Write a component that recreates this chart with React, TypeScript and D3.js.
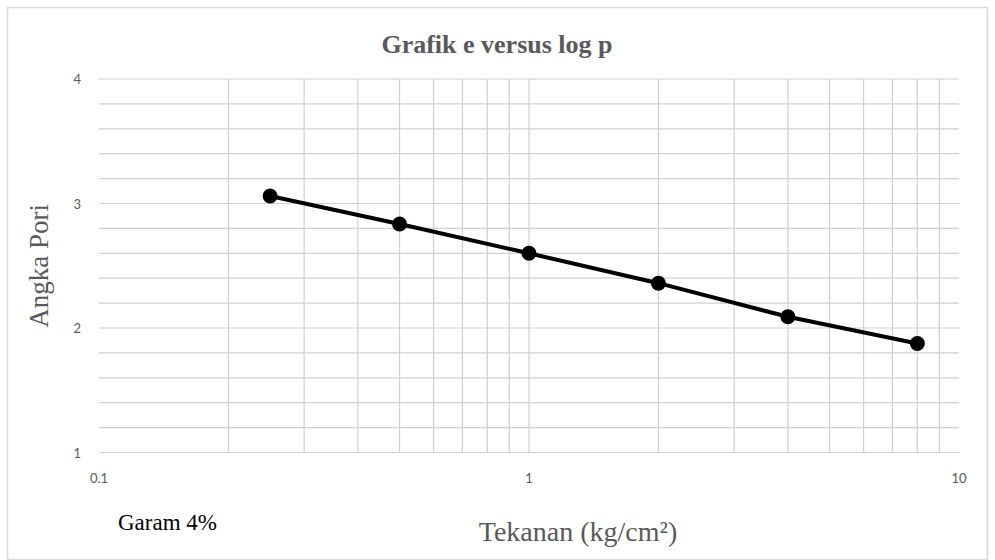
import React from "react";
import * as d3 from "d3";

const pressures = [0.25, 0.5, 1, 2, 4, 8];
const voidRatios = [3.06, 2.835, 2.6, 2.36, 2.09, 1.876];
const yTicks = [1, 2, 3, 4];
const xTickLabels = [0.1, 1, 10];
const xMinor = [0.2, 0.3, 0.4, 0.5, 0.6, 0.7, 0.8, 0.9, 1, 2, 3, 4, 5, 6, 7, 8, 9];
const yMinor = d3.range(1, 4.0001, 0.2);

export default function App() {
  const W = 995, H = 560;
  const left = 99, right = 959, top = 79, bottom = 452.5;
  const x = d3.scaleLog().domain([0.1, 10]).range([left, right]);
  const y = d3.scaleLinear().domain([1, 4]).range([bottom, top]);
  const line = d3.line<number>().x((_, i) => x(pressures[i])).y((d) => y(d));
  const grid = "#d0d0d0";
  const tickFont = "Lato, 'Open Sans', sans-serif";
  return (
    <svg width={W} height={H} style={{ position: "absolute", left: 0, top: 0 }}>
      <rect x={0} y={0} width={W} height={H} fill="#fff" />
      <rect x={7.5} y={7.5} width={W - 15} height={H - 8} fill="none" stroke="#d9d9d9" strokeWidth={1.5} />
      <text x={497} y={53} textAnchor="middle" fontFamily="'Liberation Serif', serif" fontWeight="bold" fontSize={26} fill="#595959">
        Grafik e versus log p
      </text>
      {yMinor.map((v, i) => (
        <line key={"h" + i} x1={left} x2={right} y1={y(v)} y2={y(v)} stroke={grid} strokeWidth={1.2} />
      ))}
      {xMinor.map((v, i) => (
        <line key={"v" + i} x1={x(v)} x2={x(v)} y1={top} y2={bottom} stroke={grid} strokeWidth={1.2} />
      ))}
      {yTicks.map((v) => (
        <text key={"yt" + v} x={left - 18} y={y(v) + 5} textAnchor="end" fontFamily={tickFont} fontSize={13} fill="#595959">
          {v}
        </text>
      ))}
      {xTickLabels.map((v) => (
        <text key={"xt" + v} x={x(v)} y={bottom + 30} textAnchor="middle" fontFamily={tickFont} fontSize={13} fill="#595959">
          {v}
        </text>
      ))}
      <path d={line(voidRatios) || ""} fill="none" stroke="#000" strokeWidth={4} strokeLinejoin="round" />
      {voidRatios.map((v, i) => (
        <circle key={"p" + i} cx={x(pressures[i])} cy={y(v)} r={7.5} fill="#000" />
      ))}
      <text transform={`translate(48,${(top + bottom) / 2}) rotate(-90)`} textAnchor="middle" fontFamily="'Liberation Serif', serif" fontSize={27} fill="#595959">
        Angka Pori
      </text>
      <text x={578} y={541} textAnchor="middle" fontFamily="'Liberation Serif', serif" fontSize={28} fill="#595959">
        Tekanan (kg/cm²)
      </text>
      <text x={118} y={530} fontFamily="'Liberation Serif', serif" fontSize={23} fill="#000">
        Garam 4%
      </text>
    </svg>
  );
}
